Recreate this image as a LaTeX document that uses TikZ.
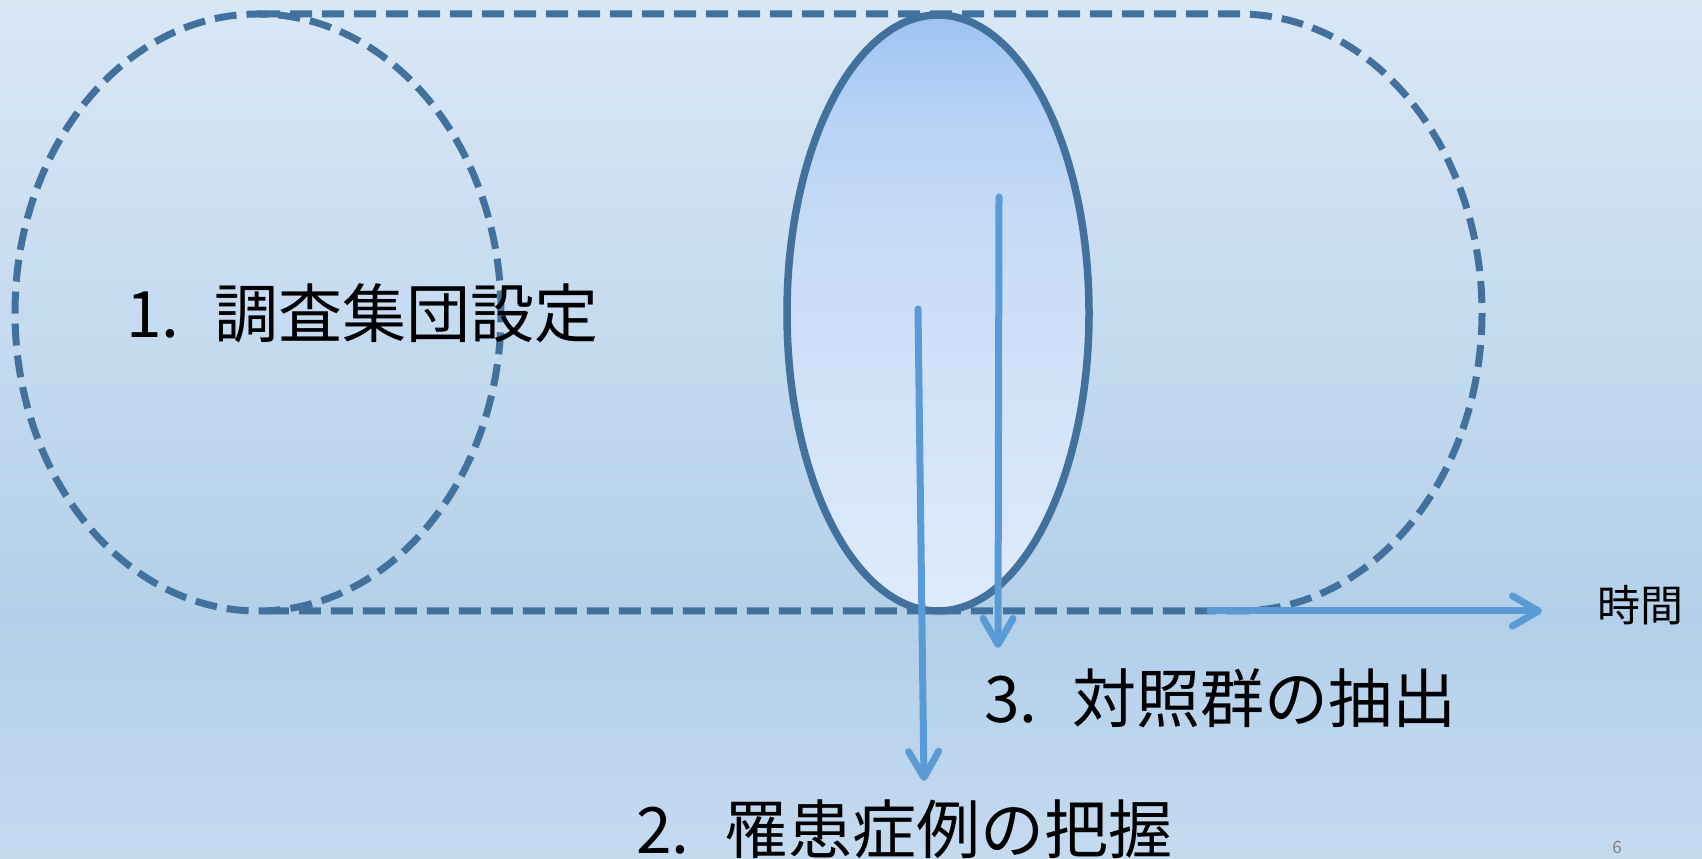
\documentclass[tikz,border=0pt]{standalone}
\usepackage{fontspec}
\setmainfont{Noto Sans CJK JP}
\usetikzlibrary{arrows.meta}
\definecolor{bgtop}{HTML}{D9E7F5}
\definecolor{bgmid}{HTML}{B3D0EA}
\definecolor{bgbot}{HTML}{C4DAEF}
\definecolor{ringcol}{HTML}{41719C}
\definecolor{arrowcol}{HTML}{5B9BD5}
\definecolor{elltop}{HTML}{9DC3F3}
\definecolor{ellmidA}{HTML}{B6D2F6}
\definecolor{ellmidB}{HTML}{C7DBF6}
\definecolor{ellbot}{HTML}{DFEBFB}
\pgfdeclareverticalshading{bgshade}{100bp}{color(0bp)=(bgbot); color(25bp)=(bgbot); color(39bp)=(bgmid); color(75bp)=(bgtop); color(100bp)=(bgtop)}
\pgfdeclareverticalshading{ellshade}{100bp}{color(0bp)=(ellbot); color(25bp)=(ellbot); color(57bp)=(ellmidB); color(67bp)=(ellmidA); color(75bp)=(elltop); color(100bp)=(elltop)}
\tikzset{
  dashring/.style={draw=ringcol, line width=7pt, dash pattern=on 22pt off 10pt},
  solidring/.style={draw=ringcol, line width=7.5pt},
  flow/.style={draw=arrowcol, line width=7pt, line cap=round,
    -{Straight Barb[length=26pt, width=30pt, line cap=round, line join=round]}},
  biglabel/.style={inner sep=0pt, anchor=west, font=\fontsize{64}{72}\selectfont},
}
\begin{document}
\begin{tikzpicture}[x=1pt,y=1pt]
\useasboundingbox (0,0) rectangle (1702,859);
\shade[shading=bgshade] (0,0) rectangle (1702,859);
% population cylinder
\draw[dashring] (258,546.5) ellipse [x radius=243, y radius=298.5];
\draw[dashring] (258,845) -- (1239,845) arc [start angle=90, end angle=-90, x radius=243, y radius=298.5] -- (258,248);
% cross-section ellipse
\shade[shading=ellshade] (938,546) ellipse [x radius=151, y radius=298];
\draw[solidring] (938,546) ellipse [x radius=151, y radius=298];
% coordinates
\coordinate (cStart) at (918,550);
\coordinate (cEnd) at (924,78);
\coordinate (kStart) at (999,662);
\coordinate (kEnd) at (998,211);
\coordinate (tStart) at (1210,248);
\coordinate (tEnd) at (1542,248);
% arrows
\draw[flow] (tStart) -- (tEnd);
\draw[flow] (cStart) -- (cEnd);
\draw[flow] (kStart) -- (kEnd);
% labels
\node[biglabel] (l1) at (126,546) {1.\hspace{0.55em}調査集団設定};
\node[biglabel] (l2) at (636,30) {2.\hspace{0.55em}罹患症例の把握};
\node[biglabel] (l3) at (984,161) {3.\hspace{0.55em}対照群の抽出};
\node[inner sep=0pt, font=\fontsize{43}{50}\selectfont] (time) at (1640,254) {時間};
\node[inner sep=0pt, text=gray, font=\fontsize{17}{20}\selectfont] (page) at (1617,12) {6};
\end{tikzpicture}
\end{document}
